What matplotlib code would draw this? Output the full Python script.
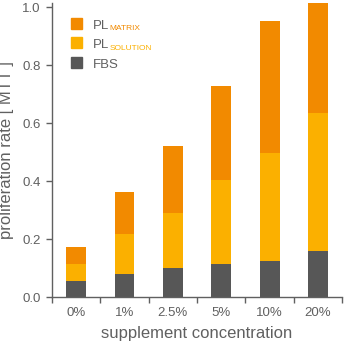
import numpy as np
import matplotlib.pyplot as plt
from matplotlib.patches import Rectangle

# values
categories = ["0%", "1%", "2.5%", "5%", "10%", "20%"]
fbs = [0.055, 0.078, 0.101, 0.114, 0.124, 0.159]
pl_solution = [0.114, 0.218, 0.289, 0.405, 0.497, 0.634]   # cumulative top
pl_matrix = [0.172, 0.361, 0.522, 0.728, 0.951, 1.015]     # cumulative top

c_matrix = "#F28A00"
c_solution = "#FBB000"
c_fbs = "#575757"
c_text = "#606060"

plt.rcParams['font.family'] = ['Liberation Sans', 'DejaVu Sans']

fig = plt.figure(figsize=(3.47, 3.41), dpi=100)
ax = fig.add_axes([0.150, 0.129, 0.836, 0.862])

x = np.arange(len(categories))
sol = np.array(pl_solution) - np.array(fbs)
mat = np.array(pl_matrix) - np.array(pl_solution)
w = 0.41
ax.bar(x, fbs, w, color=c_fbs, edgecolor="none")
ax.bar(x, sol, w, bottom=fbs, color=c_solution, edgecolor="none")
ax.bar(x, mat, w, bottom=pl_solution, color=c_matrix, edgecolor="none")

ax.set_xlim(-0.5, len(categories) - 0.5)
ax.set_ylim(0, 1.014)

for s in ["top", "right"]:
    ax.spines[s].set_visible(False)
for s in ["left", "bottom"]:
    ax.spines[s].set_color(c_text)
    ax.spines[s].set_linewidth(1.0)

ax.set_yticks([0.0, 0.2, 0.4, 0.6, 0.8, 1.0])
ax.set_yticklabels(["0.0", "0.2", "0.4", "0.6", "0.8", "1.0"])
ax.set_xticks(np.arange(len(categories) + 1) - 0.5)
ax.set_xticklabels([])
ax.set_xticks(x, minor=True)
ax.set_xticklabels(categories, minor=True)
ax.tick_params(axis="both", which="major", colors=c_text, labelcolor=c_text,
               labelsize=9.5, length=4, width=1.0, pad=4)
ax.tick_params(axis="x", which="minor", length=0, labelsize=9.5,
               labelcolor=c_text, pad=7)

ax.set_xlabel("supplement concentration", fontsize=12, color=c_text,
              labelpad=5)
ax.set_ylabel("proliferation rate [ MTT ]", fontsize=12, color=c_text,
              labelpad=6)

# legend drawn by hand (subscripts are coloured)
leg = [("PL", "MATRIX", c_matrix), ("PL", "SOLUTION", c_solution), ("FBS", "", c_fbs)]
for i, (main, sub, col) in enumerate(leg):
    y0 = 0.912 - i * 0.0665
    ax.add_patch(Rectangle((0.0645, y0), 0.038, 0.0374, transform=ax.transAxes,
                           color=col, clip_on=False))
    t = ax.text(0.141, y0 + 0.001, main, transform=ax.transAxes, fontsize=9.5,
                color=c_text, va="baseline", ha="left")
    if sub:
        fig.canvas.draw()
        bb = t.get_window_extent().transformed(ax.transAxes.inverted())
        ax.text(bb.x1 + 0.001, y0 - 0.005, sub, transform=ax.transAxes,
                fontsize=6, color=col, va="baseline", ha="left")

fig.savefig("out.png", dpi=100)
